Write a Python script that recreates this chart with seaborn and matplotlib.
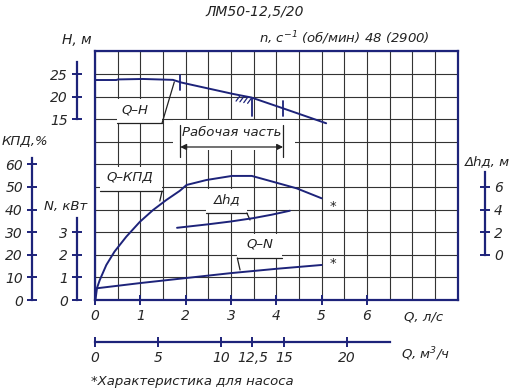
import numpy as np
import matplotlib
matplotlib.use("Agg")
import matplotlib.pyplot as plt
import seaborn as sns
from matplotlib.patches import Rectangle

# ---------------- data ----------------
Q_H = [0.0, 0.47, 0.51, 1.06, 1.72, 1.91, 3.04, 3.45, 4.15, 5.1]           # l/s
H_M = [23.67, 23.67, 23.8, 23.9, 23.7, 23.1, 20.6, 19.8, 17.4, 14.1]       # m
Q_EFF = [0.01, 0.044, 0.104, 0.25, 0.43, 0.69, 0.99, 1.28, 1.57, 1.87, 2.02,
         2.46, 3.02, 3.46, 3.93, 4.45, 5.0]
EFF = [0.0, 5.3, 8.8, 15.5, 21.4, 28.0, 34.6, 39.8, 44.2, 48.3, 50.9,
       53.1, 54.9, 54.9, 52.3, 49.4, 45.0]                                  # %
Q_N = [0.044, 1.0, 2.0, 3.0, 4.0, 5.0]
N_KW = [0.52, 0.75, 0.97, 1.19, 1.38, 1.55]                                  # kW
Q_DH = [1.81, 2.5, 3.0, 3.5, 3.9, 4.3]
DH_M = [2.39, 2.7, 2.95, 3.25, 3.55, 3.9]                                    # m
WORK_RANGE_Q = [1.88, 4.15]
NOMINAL_Q_M3H = 12.5

QLS_TICKS = [0, 1, 2, 3, 4, 5, 6]
QM3_TICKS = [0, 5, 10, 12.5, 15, 20]
QM3_LABELS = ["0", "5", "10", "12,5", "15", "20"]
H_TICKS = [15, 20, 25]
EFF_TICKS = [0, 10, 20, 30, 40, 50, 60]
N_TICKS = [0, 1, 2, 3]
DH_TICKS = [0, 2, 4, 6]

TITLE = "ЛМ50-12,5/20"
SUBTITLE = "n, c$^{-1}$ (об/мин) 48 (2900)"
FOOTNOTE = "*Характеристика для насоса"

# ---------------- style ----------------
NAVY = "#1d237a"
GRID = "#333333"
INK = "#222222"
sns.set_style("white")
plt.rcParams["font.family"] = ["DejaVu Sans"]
plt.rcParams["font.style"] = "italic"
plt.rcParams["mathtext.default"] = "regular"
FS = 9.5      # annotation / label text
FT = 10       # tick labels

W, Hh = 511, 392
fig = plt.figure(figsize=(W / 100, Hh / 100), dpi=100)
L, R, B, T = 95, 457.6, 300, 51.4
ax = fig.add_axes([L / W, 1 - B / Hh, (R - L) / W, (B - T) / Hh])
PXX = (R - L)
PXY = (B - T)


def side_axis(twin, side, pos, lo, hi, b_lo, b_hi, ticks):
    twin.set_ylim(lo, hi)
    for s in twin.spines.values():
        s.set_visible(False)
    sp = twin.spines[side]
    sp.set_visible(True)
    sp.set_position(("axes", pos))
    sp.set_bounds(b_lo, b_hi)
    sp.set_color(NAVY)
    sp.set_linewidth(1.6)
    if side == "left":
        twin.yaxis.tick_left()
    else:
        twin.yaxis.tick_right()
    twin.set_yticks(ticks)
    twin.set_yticklabels([str(t) for t in ticks], fontsize=FT)
    twin.tick_params(axis="y", direction="inout", length=7, width=1.4, color=NAVY, pad=3)
    twin.patch.set_visible(False)


axH = ax.twinx()
axE = ax.twinx()
axN = ax.twinx()
axD = ax.twinx()
axQ = ax.twiny()

side_axis(axH, "left", (77 - L) / PXX, -25, 30, 15, 27.6, H_TICKS)
side_axis(axE, "left", (32 - L) / PXX, 0, 110, 0, 62.8, EFF_TICKS)
side_axis(axN, "left", (77 - L) / PXX, 0, 11, 0, 3.63, N_TICKS)
side_axis(axD, "right", (485 - L) / PXX, -4, 18, 0, 7.3, DH_TICKS)

# second Q axis (m3/h)
for s in axQ.spines.values():
    s.set_visible(False)
axQ.xaxis.tick_bottom()
axQ.spines["bottom"].set_visible(True)
axQ.spines["bottom"].set_position(("axes", (B - 342) / PXY))
axQ.spines["bottom"].set_color(NAVY)
axQ.spines["bottom"].set_linewidth(1.6)
axQ.spines["bottom"].set_bounds(0, 6.5 * 3.6)
axQ.set_xticks(QM3_TICKS)
axQ.set_xticklabels(QM3_LABELS, fontsize=FT)
axQ.tick_params(axis="x", direction="inout", length=7, width=1.4, color=NAVY, pad=3)
axQ.patch.set_visible(False)
axQ.set_yticks([])

# ---------------- curves ----------------
kw = dict(color=NAVY, lw=1.4, legend=False)
sns.lineplot(x=Q_H, y=H_M, ax=axH, **kw)
sns.lineplot(x=Q_EFF, y=EFF, ax=axE, **kw)
sns.lineplot(x=Q_N, y=N_KW, ax=axN, **kw)
sns.lineplot(x=Q_DH, y=DH_M, ax=axD, **kw)
for a, lo, hi in [(axH, -25, 30), (axE, 0, 110), (axN, 0, 11), (axD, -4, 18)]:
    a.set_ylim(lo, hi)
    a.set_ylabel("")
    a.set_xlabel("")

# grid axes: x = Q l/s (0..8), y = grid rows (0..11)  (configured after twins)
ax.set_xlim(0, 8)
ax.set_ylim(0, 11)
axQ.set_xlim(0, 8 * 3.6)
ax.set_xticks(QLS_TICKS)
ax.set_xticklabels([str(t) for t in QLS_TICKS], fontsize=FT)
ax.set_xticks(np.arange(0, 8.01, 0.5), minor=True)
ax.set_yticks(np.arange(0, 11.01, 1))
ax.set_yticklabels([])
ax.tick_params(axis="x", which="major", direction="inout", length=7, width=1.4,
               color=NAVY, pad=3, bottom=True, top=False)
ax.tick_params(axis="x", which="minor", length=0)
ax.tick_params(axis="y", which="both", length=0, left=True, right=False)
ax.set_axisbelow(True)
ax.xaxis.grid(True, which="both", color=GRID, lw=0.8)
ax.yaxis.grid(True, which="major", color=GRID, lw=0.8)
for s in ax.spines.values():
    s.set_visible(True)
    s.set_color(NAVY)
    s.set_linewidth(1.6)
    s.set_zorder(5)

# working range markers on Q-H
for q in WORK_RANGE_Q:
    hq = np.interp(q, Q_H, H_M)
    axH.plot([q, q], [hq + 1.6, hq - 1.8], color=NAVY, lw=1.3)
qn = NOMINAL_Q_M3H / 3.6
hn = np.interp(qn, Q_H, H_M)
axH.plot([qn, qn], [hn, hn - 4.0], color=NAVY, lw=1.3)
for k in range(4):
    x0 = qn - 0.36 + k * 0.085
    yc = np.interp(x0 + 0.08, Q_H, H_M)
    axH.plot([x0, x0 + 0.08], [yc - 1.3, yc - 0.2], color=NAVY, lw=0.9)

# working part label
ax.add_patch(Rectangle((1.72, 6.65), 2.7, 1.32, facecolor="white", edgecolor="none", zorder=1.8))
for q in WORK_RANGE_Q:
    ax.plot([q, q], [6.33, 7.74], color=INK, lw=0.9, zorder=3)
ax.annotate("", xy=(WORK_RANGE_Q[0], 6.77), xytext=(WORK_RANGE_Q[1], 6.77),
            arrowprops=dict(arrowstyle="<|-|>", color=INK, lw=0.9,
                            mutation_scale=9, shrinkA=0, shrinkB=0), zorder=3)
ax.text(sum(WORK_RANGE_Q) / 2, 7.42, "Рабочая часть", ha="center", va="center",
        fontsize=FS, color=INK, zorder=4)


def curve_label(text, tx, ty, u0, u1, uy, ex, ey, lead_from):
    ax.add_patch(Rectangle((u0, uy), u1 - u0, 1.05, facecolor="white",
                           edgecolor="none", zorder=1.8))
    ax.text(tx, ty, text, ha="center", va="center", fontsize=FS, color=INK, zorder=4)
    sx = u1 if lead_from == "right" else u0
    ax.plot([u0, u1], [uy, uy], color=INK, lw=0.9, zorder=3)
    ax.plot([sx, ex], [uy, ey], color=INK, lw=0.9, zorder=3)


curve_label("Q–H", 0.88, 8.4, 0.49, 1.48, 7.83, 1.75, 9.65, "right")
curve_label("Q–КПД", 0.77, 5.42, 0.11, 1.48, 4.82, 1.43, 4.38, "right")
curve_label("Δhд", 2.91, 4.42, 2.46, 3.35, 3.85, 3.42, 3.54, "right")
curve_label("Q–N", 3.64, 2.48, 3.14, 4.13, 1.86, 3.20, 1.33, "left")

# asterisks
axE.annotate("*", xy=(Q_EFF[-1], EFF[-1]), xytext=(8, -6), textcoords="offset points",
             ha="center", va="center", fontsize=FS, color=INK)
axN.annotate("*", xy=(Q_N[-1], N_KW[-1]), xytext=(8, 1), textcoords="offset points",
             ha="center", va="center", fontsize=FS, color=INK)


# ---------------- texts ----------------
def ftext(x, y, s, fs=FS):
    fig.text(x / W, 1 - y / Hh, s, fontsize=fs, ha="center", va="center", color=INK)


ftext(255, 12, TITLE, 10)
ftext(344, 38, SUBTITLE)
ftext(77, 40, "H, м", 10)
ftext(25, 141, "КПД,%")
ftext(66, 207, "N, кВт")
ftext(487, 162, "Δhд, м")
ftext(424, 317, "Q, л/с")
ftext(426, 354, "Q, м$^3$/ч")
ftext(192, 381, FOOTNOTE)

fig.savefig("out.png", dpi=100)
